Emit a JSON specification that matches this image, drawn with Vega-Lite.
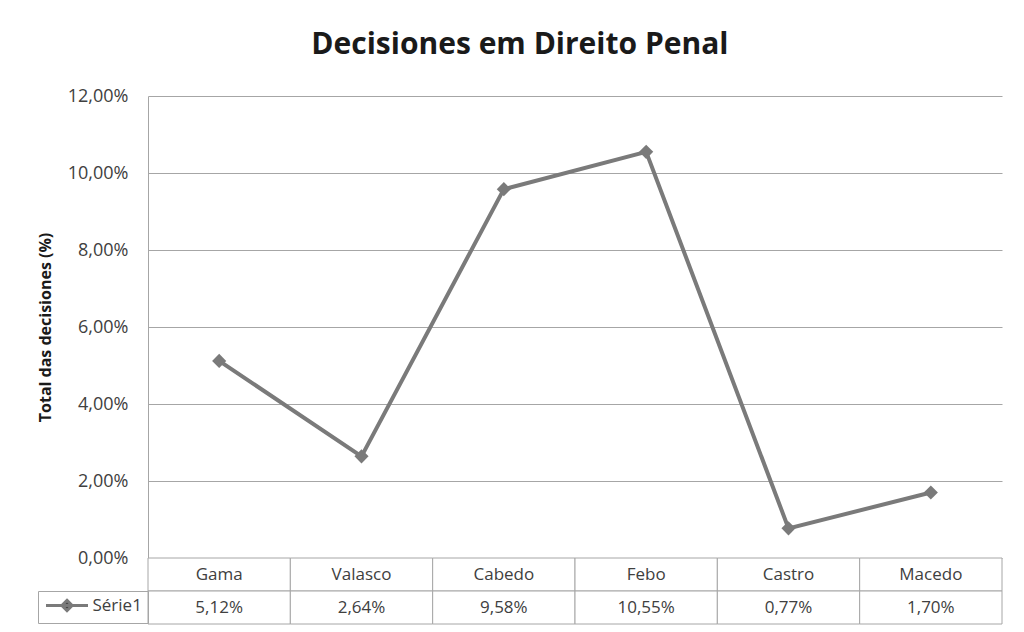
{
  "$schema": "https://vega.github.io/schema/vega-lite/v6.json",
  "background": "white",
  "padding": {"left": 37, "top": 30, "right": 5, "bottom": 5},
  "title": {"text": "Decisiones em Direito Penal", "font": "Open Sans", "fontSize": 30, "fontWeight": "bold", "color": "#1a1a1a", "anchor": "middle", "offset": 27},
  "bounds": "flush",
  "spacing": 0,
  "resolve": {"scale": {"color": "independent"}, "legend": {"color": "independent"}},
  "data": {"values": [
    {"docente": "Gama", "valor": 0.0512, "serie": "Série1"},
    {"docente": "Valasco", "valor": 0.0264, "serie": "Série1"},
    {"docente": "Cabedo", "valor": 0.0958, "serie": "Série1"},
    {"docente": "Febo", "valor": 0.1055, "serie": "Série1"},
    {"docente": "Castro", "valor": 0.0077, "serie": "Série1"},
    {"docente": "Macedo", "valor": 0.0170, "serie": "Série1"}
  ]},
  "vconcat": [
    {
      "width": 854,
      "height": 462,
      "encoding": {
        "x": {"field": "docente", "type": "nominal", "sort": null, "axis": null, "scale": {"type": "point", "padding": 0.5}},
        "y": {"field": "valor", "type": "quantitative", "scale": {"domain": [0, 0.12], "nice": false, "zero": true},
          "axis": {"format": ".2%", "values": [0, 0.02, 0.04, 0.06, 0.08, 0.1, 0.12], "title": "Total das decisiones (%)",
            "grid": true, "gridColor": "#a6a6a6", "gridWidth": 1, "domainColor": "#a6a6a6", "domainWidth": 1, "ticks": false,
            "labelPadding": 20, "labelFontSize": 18, "labelColor": "#404040", "labelFont": "Open Sans",
            "titleFont": "Open Sans", "titleFontSize": 16, "titleFontWeight": "bold", "titleColor": "#1a1a1a", "titlePadding": 14}}
      },
      "layer": [
        {"mark": {"type": "line", "color": "#7a7a7a", "strokeWidth": 4}},
        {"mark": {"type": "point", "shape": "diamond", "filled": true, "size": 200, "color": "#7a7a7a", "opacity": 1}}
      ]
    },
    {
      "width": 854,
      "height": 33,
      "encoding": {
        "x": {"field": "docente", "type": "nominal", "sort": null, "axis": null, "scale": {"type": "band", "paddingInner": 0, "paddingOuter": 0}}
      },
      "layer": [
        {"mark": {"type": "rect", "fill": "white", "stroke": "#a6a6a6", "strokeWidth": 1}},
        {"mark": {"type": "text", "font": "Open Sans", "fontSize": 17, "color": "#404040"}, "encoding": {"text": {"field": "docente"}}}
      ]
    },
    {
      "width": 854,
      "height": 33,
      "encoding": {
        "x": {"field": "docente", "type": "nominal", "sort": null, "axis": null, "scale": {"type": "band", "paddingInner": 0, "paddingOuter": 0}}
      },
      "layer": [
        {"mark": {"type": "rect", "fill": "white", "stroke": "#a6a6a6", "strokeWidth": 1}},
        {"mark": {"type": "text", "font": "Open Sans", "fontSize": 17},
          "encoding": {
            "text": {"field": "valor", "type": "quantitative", "format": ".2%"},
            "color": {"field": "serie", "type": "nominal", "scale": {"range": ["#404040"]},
              "legend": {"title": null, "orient": "left", "offset": 0, "padding": 6, "strokeColor": "#a6a6a6",
                "labelFont": "Open Sans", "labelFontSize": 17, "labelColor": "#404040",
                "symbolType": "M-3.5,0L3.5,0M0,-0.85L0.85,0L0,0.85L-0.85,0Z", "symbolSize": 144,
                "symbolStrokeWidth": 3, "symbolOffset": 14.5, "labelOffset": 17,
                "encode": {"symbols": {"update": {"fill": {"value": "#7a7a7a"}, "stroke": {"value": "#7a7a7a"}, "strokeWidth": {"value": 3}, "opacity": {"value": 1}}}}}}
          }}
      ]
    }
  ],
  "config": {
    "view": {"stroke": null},
    "font": "Open Sans",
    "locale": {"number": {"decimal": ",", "thousands": ".", "grouping": [3], "currency": ["", " €"]}}
  }
}
